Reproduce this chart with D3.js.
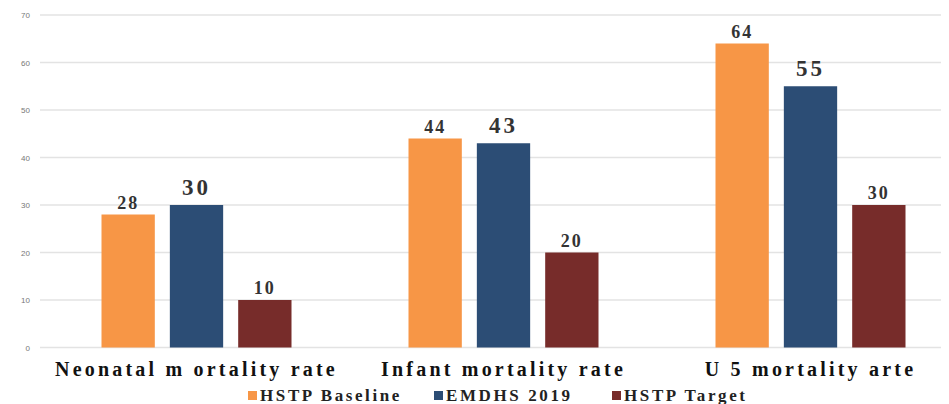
<!DOCTYPE html>
<html>
<head>
<meta charset="utf-8">
<script src="https://cdn.jsdelivr.net/npm/d3@7"></script>
<style>
  body { margin: 0; background: #fff; }
  .grid line { stroke: #e3e3e3; stroke-width: 1.5px; }
  .tick-label { font-family: "Liberation Sans", Arial, sans-serif; font-size: 8px; fill: #777; }
  .cat-label { font-family: "Liberation Serif", "Times New Roman", serif; font-weight: bold; font-size: 20px; fill: #111; letter-spacing: 3.2px; }
  .val-label { font-family: "Liberation Serif", "Times New Roman", serif; font-weight: bold; fill: #333; }
  .legend-text { font-family: "Liberation Serif", "Times New Roman", serif; font-weight: bold; font-size: 17px; fill: #222; letter-spacing: 2.6px; }
</style>
</head>
<body>
<div id="chart"></div>
<script>
var width = 949, height = 404

// data
const categories = ["Neonatal m ortality rate", "Infant mortality rate", "U 5 mortality arte"]
const seriesNames = ["HSTP Baseline", "EMDHS 2019", "HSTP Target"]
const hstpBaseline = [28, 44, 64]
const emdhs2019 = [30, 43, 55]
const hstpTarget = [10, 20, 30]
const yTicks = [0, 10, 20, 30, 40, 50, 60, 70]

const colors = ["#F79646", "#2C4D75", "#772C2A"]
const seriesValues = [hstpBaseline, emdhs2019, hstpTarget]

let svg = d3.select("#chart")
    .append("svg")
    .attr("width", width)
    .attr("height", height)

let xScale = d3.scaleBand()
    .domain(categories)
    .range([43, 964])
    .padding(0)

let xInner = d3.scaleBand()
    .domain(seriesNames)
    .range([0, 190])
    .paddingInner(0.22)
    .paddingOuter(0)

let yScale = d3.scaleLinear()
    .domain([0, 70])
    .range([347.5, 15])

// gridlines
svg.append("g")
    .attr("class", "grid")
    .selectAll("line")
    .data(yTicks)
    .enter()
    .append("line")
    .attr("x1", 40)
    .attr("x2", 941)
    .attr("y1", d => yScale(d))
    .attr("y2", d => yScale(d))

// y axis labels
svg.append("g")
    .selectAll("text")
    .data(yTicks)
    .enter()
    .append("text")
    .attr("class", "tick-label")
    .attr("x", 30)
    .attr("y", d => yScale(d) + 3)
    .attr("text-anchor", "end")
    .text(d => d)

// bars
let rows = []
categories.forEach((c, i) => {
    seriesNames.forEach((s, j) => {
        rows.push({ cat: c, series: s, j: j, value: seriesValues[j][i] })
    })
})

let groups = svg.append("g")

groups.selectAll("rect")
    .data(rows)
    .enter()
    .append("rect")
    .attr("x", d => xScale(d.cat) + (xScale.bandwidth() - 190) / 2 + xInner(d.series))
    .attr("y", d => yScale(d.value))
    .attr("width", xInner.bandwidth())
    .attr("height", d => yScale(0) - yScale(d.value))
    .style("fill", d => colors[d.j])

// value labels, blue ones drawn larger like the original
groups.selectAll("text")
    .data(rows)
    .enter()
    .append("text")
    .attr("class", "val-label")
    .attr("x", d => xScale(d.cat) + (xScale.bandwidth() - 190) / 2 + xInner(d.series) + xInner.bandwidth() / 2)
    .attr("y", d => yScale(d.value) - (d.j == 1 ? 10 : 6))
    .attr("text-anchor", "middle")
    .style("font-size", d => d.j == 1 ? "23px" : "18px")
    .style("letter-spacing", d => d.j == 1 ? "3px" : "2px")
    .text(d => d.value)

// category labels
svg.append("g")
    .selectAll("text")
    .data(categories)
    .enter()
    .append("text")
    .attr("class", "cat-label")
    .attr("x", d => xScale(d) + xScale.bandwidth() / 2)
    .attr("y", 376)
    .attr("text-anchor", "middle")
    .text(d => d)

// legend
let legendX = [248, 434, 612]
let legend = svg.append("g")
    .selectAll("g")
    .data(seriesNames)
    .enter()
    .append("g")
    .attr("transform", (d, i) => "translate(" + legendX[i] + ",391)")

legend.append("rect")
    .attr("width", 9)
    .attr("height", 9)
    .style("fill", (d, i) => colors[i])

legend.append("text")
    .attr("class", "legend-text")
    .attr("x", 12)
    .attr("y", 9.5)
    .text(d => d)
</script>
</body>
</html>
